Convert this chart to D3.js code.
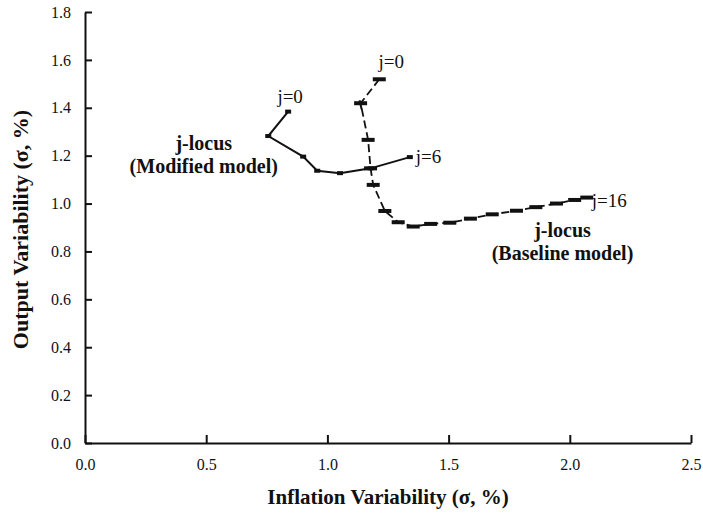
<!DOCTYPE html>
<html>
<head>
<meta charset="utf-8">
<script src="https://cdn.jsdelivr.net/npm/d3@7"></script>
<style>
  body { margin: 0; background: #fff; }
  svg { display: block; }
  text { font-family: "Liberation Serif", "Times New Roman", serif; fill: #111; }
</style>
</head>
<body>
<svg id="chart"></svg>
<script>
// j-locus, modified model (j = 0..6)
const modInflation = [0.838, 0.756, 0.900, 0.958, 1.052, 1.178, 1.340];
const modOutput    = [1.384, 1.282, 1.196, 1.137, 1.127, 1.147, 1.194];

// j-locus, baseline model (j = 0..16)
const baseInflation = [1.214, 1.137, 1.168, 1.178, 1.189, 1.237, 1.292, 1.354, 1.426, 1.505,
                       1.590, 1.680, 1.780, 1.860, 1.945, 2.020, 2.070];
const baseOutput    = [1.519, 1.419, 1.266, 1.147, 1.078, 0.969, 0.922, 0.904, 0.915, 0.920,
                       0.937, 0.955, 0.970, 0.985, 1.000, 1.015, 1.025];

const xTicks = [0.0, 0.5, 1.0, 1.5, 2.0, 2.5];
const yTicks = [0.0, 0.2, 0.4, 0.6, 0.8, 1.0, 1.2, 1.4, 1.6, 1.8];

const width = 703, height = 521;
const margin = { top: 12, right: 12, bottom: 78, left: 85 };

const svg = d3.select('#chart')
  .attr('width', width)
  .attr('height', height);

const x = d3.scaleLinear().domain([0, 2.5]).range([margin.left, width - margin.right]);
const y = d3.scaleLinear().domain([0, 1.8]).range([height - margin.bottom, margin.top]);

// axes (ticks point inward)
const xAxis = svg.append('g')
  .attr('transform', `translate(0, ${y(0)})`)
  .call(d3.axisBottom(x).tickValues(xTicks).tickFormat(d3.format('.1f'))
    .tickSizeInner(-8).tickSizeOuter(0).tickPadding(16));

const yAxis = svg.append('g')
  .attr('transform', `translate(${x(0)}, 0)`)
  .call(d3.axisLeft(y).tickValues(yTicks).tickFormat(d3.format('.1f'))
    .tickSizeInner(-7).tickSizeOuter(0).tickPadding(14));

[xAxis, yAxis].forEach(g => {
  g.select('.domain').attr('stroke', '#111').attr('stroke-width', 2);
  g.selectAll('.tick line').attr('stroke', '#111').attr('stroke-width', 2);
  g.selectAll('.tick text')
    .style('font-family', '"Liberation Serif", "Times New Roman", serif')
    .style('font-size', '16px')
    .attr('fill', '#222');
});

// axis titles
svg.append('text')
  .attr('x', (x(0) + x(2.5)) / 2)
  .attr('y', 504)
  .attr('text-anchor', 'middle')
  .style('font-size', '21px')
  .style('font-weight', 'bold')
  .text('Inflation Variability (σ, %)');

svg.append('text')
  .attr('transform', `translate(28, ${(y(0) + y(1.8)) / 2 + 2}) rotate(-90)`)
  .attr('text-anchor', 'middle')
  .style('font-size', '22px')
  .style('font-weight', 'bold')
  .text('Output Variability (σ, %)');

const line = d3.line()
  .x(d => x(d[0]))
  .y(d => y(d[1]));

const modData = modInflation.map((v, i) => [v, modOutput[i]]);
const baseData = baseInflation.map((v, i) => [v, baseOutput[i]]);

// baseline: dashed line with bar markers
svg.append('path')
  .datum(baseData)
  .attr('d', line)
  .attr('fill', 'none')
  .attr('stroke', '#111')
  .attr('stroke-width', 1.8)
  .attr('stroke-dasharray', '8,4');

svg.selectAll('rect.base')
  .data(baseData)
  .enter()
  .append('rect')
  .attr('class', 'base')
  .attr('x', d => x(d[0]) - 6.5)
  .attr('y', d => y(d[1]) - 2)
  .attr('width', 13)
  .attr('height', 4)
  .attr('fill', '#111');

// j=1 marker on the baseline looks like a cross
svg.append('line')
  .datum(baseData[1])
  .attr('x1', d => x(d[0]) - 1)
  .attr('x2', d => x(d[0]) + 1)
  .attr('y1', d => y(d[1]) - 3)
  .attr('y2', d => y(d[1]) + 6)
  .attr('stroke', '#111')
  .attr('stroke-width', 2);

// modified: solid line with small square markers
svg.append('path')
  .datum(modData)
  .attr('d', line)
  .attr('fill', 'none')
  .attr('stroke', '#111')
  .attr('stroke-width', 2);

svg.selectAll('rect.mod')
  .data(modData)
  .enter()
  .append('rect')
  .attr('class', 'mod')
  .attr('x', d => x(d[0]) - 3)
  .attr('y', d => y(d[1]) - 2)
  .attr('width', 6)
  .attr('height', 4)
  .attr('fill', '#111');

// point labels
const labels = [
  { t: 'j=0', p: modData[0], dx: 2, dy: -9, anchor: 'middle' },
  { t: 'j=6', p: modData[6], dx: 6, dy: 6, anchor: 'start' },
  { t: 'j=0', p: baseData[0], dx: 12, dy: -11, anchor: 'middle' },
  { t: 'j=16', p: baseData[16], dx: 5, dy: 9, anchor: 'start' }
];

svg.selectAll('text.jlab')
  .data(labels)
  .enter()
  .append('text')
  .attr('class', 'jlab')
  .attr('x', d => x(d.p[0]) + d.dx)
  .attr('y', d => y(d.p[1]) + d.dy)
  .attr('text-anchor', d => d.anchor)
  .style('font-size', '19px')
  .text(d => d.t);

// locus captions
const captions = [
  { lines: ['j-locus', '(Modified model)'], cx: 0.49, cy: 1.225 },
  { lines: ['j-locus', '(Baseline model)'], cx: 1.97, cy: 0.86 }
];

captions.forEach(c => {
  c.lines.forEach((s, i) => {
    svg.append('text')
      .attr('x', x(c.cx))
      .attr('y', y(c.cy) + i * 23)
      .attr('text-anchor', 'middle')
      .style('font-size', '20px')
      .style('font-weight', 'bold')
      .text(s);
  });
});
</script>
</body>
</html>
